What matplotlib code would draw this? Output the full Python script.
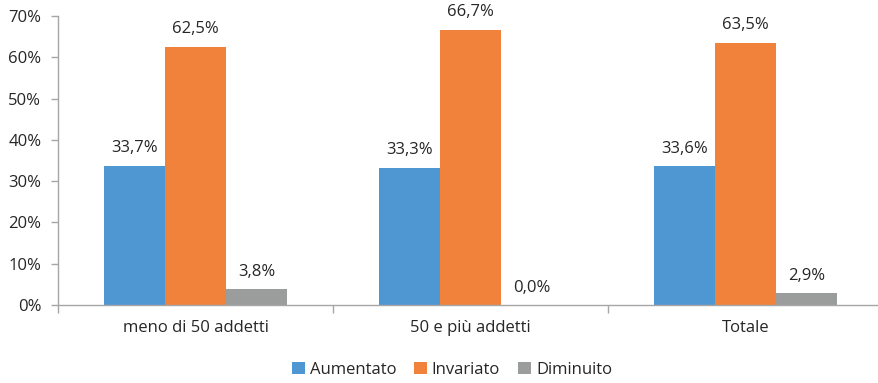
import matplotlib
matplotlib.use('Agg')
import numpy as np
from matplotlib import pyplot as plt
from matplotlib.ticker import FixedLocator

plt.rcParams['font.family'] = ['Open Sans', 'DejaVu Sans']

categories = ['meno di 50 addetti', '50 e più addetti', 'Totale']
series = ['Aumentato', 'Invariato', 'Diminuito']
aumentato = [33.7, 33.3, 33.6]
invariato = [62.5, 66.7, 63.5]
diminuito = [3.8, 0.0, 2.9]
y_ticks = [0, 10, 20, 30, 40, 50, 60, 70]

colors = ['#4F97D2', '#F0823B', '#9B9D9D']
axis_col = '#A6A6A6'
text_col = '#262626'
fs = 12

fig = plt.figure(figsize=(8.79, 3.83), dpi=100)
ax = fig.add_axes([58 / 879, 78 / 383, 825 / 879, 289 / 383])

x = np.arange(len(categories))
w = 0.222
for i, (name, vals) in enumerate(zip(series, [aumentato, invariato, diminuito])):
    pos = x + (i - 1) * w
    ax.bar(pos, vals, width=w, color=colors[i], label=name, zorder=2)
    for px, v in zip(pos, vals):
        ax.text(px, v + 2.3, f'{v:.1f}%'.replace('.', ','), ha='center',
                va='bottom', fontsize=fs, color=text_col)

ax.set_xlim(-0.5, len(categories) - 0.5)
ax.set_ylim(0, 70)
ax.set_yticks(y_ticks)
ax.set_yticklabels([f'{t}%' for t in y_ticks], fontsize=fs, color=text_col)

ax.set_xticks(x)
ax.set_xticklabels(categories, fontsize=fs, color=text_col)
ax.tick_params(axis='x', which='major', length=0, pad=11)
ax.xaxis.set_minor_locator(FixedLocator(np.arange(-0.5, len(categories), 1.0)))
ax.tick_params(axis='x', which='minor', length=6, color=axis_col, width=1)
ax.tick_params(axis='y', length=5, color=axis_col, width=1, pad=7)

for s in ['top', 'right']:
    ax.spines[s].set_visible(False)
for s in ['left', 'bottom']:
    ax.spines[s].set_color(axis_col)
    ax.spines[s].set_linewidth(1)

leg = fig.legend(loc='center', bbox_to_anchor=(452 / 879, 13 / 383), ncol=3,
                 frameon=False, fontsize=fs, handlelength=0.75, handleheight=0.75,
                 handletextpad=0.3, columnspacing=1.1)
for t in leg.get_texts():
    t.set_color(text_col)

fig.savefig('out.png', dpi=100)
